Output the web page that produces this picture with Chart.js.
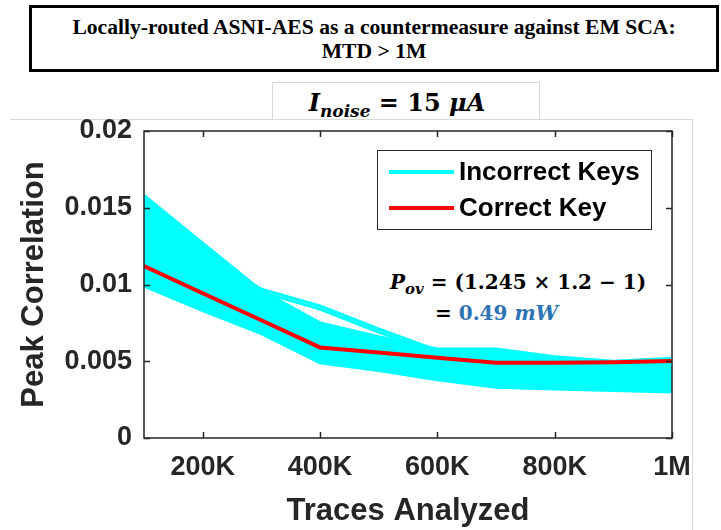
<!DOCTYPE html>
<html>
<head>
<meta charset="utf-8">
<script src="https://cdn.jsdelivr.net/npm/chart.js@4.4.0/dist/chart.umd.min.js"></script>
<style>
  html, body { margin: 0; padding: 0; background: #fff; }
  #page { position: relative; width: 721px; height: 530px; overflow: hidden; }
  #chart { position: absolute; left: 0; top: 0; z-index: 2; }
  .frame-h { position: absolute; left: 10px; top: 119px; width: 683px; height: 1px; background: #d9d9d9; }
  .frame-v { position: absolute; left: 692px; top: 119px; width: 1px; height: 411px; background: #d9d9d9; }
  #title-box {
    position: absolute; left: 29px; top: 5px; width: 690px; height: 67px;
    box-sizing: border-box; border: 3px solid #000; padding-top: 7px;
    font: bold 21.6px "Liberation Serif", "Times New Roman", serif;
    line-height: 24px; text-align: center; color: #000;
  }
  #noise-box {
    position: absolute; left: 272px; top: 82px; width: 268px; height: 38px;
    box-sizing: border-box; border: 1px solid #d9d9d9; border-bottom: none;
    font: bold 24px "DejaVu Serif", serif; text-align: center; line-height: 40px; color: #000;
    padding-right: 18px;
  }
  #noise-box sub { font-size: 17px; vertical-align: -6px; line-height: 0; }
  .math { position: absolute; font: bold 20px "DejaVu Serif", serif; color: #000; white-space: nowrap; }
  .math sub { font-size: 15px; vertical-align: -5px; line-height: 0; }
  .blue { color: #2e74b5; }
</style>
</head>
<body>
<div id="page">
  <div class="frame-h"></div>
  <div class="frame-v"></div>
  <div id="title-box">Locally-routed ASNI-AES as a countermeasure against EM SCA:<br>MTD &gt; 1M</div>
  <div id="noise-box"><i>I</i><sub><i>noise</i></sub> = 15 <i>μA</i></div>
  <div class="math" style="left:390px; top:270px;"><i>P</i><sub><i>ov</i></sub> = (1.245 × 1.2 − 1)</div>
  <div class="math" style="left:435px; top:301px;">= <span class="blue">0.49 <i>mW</i></span></div>
  <canvas id="chart" width="721" height="530"></canvas>
</div>
<script>
  /* ---- Data ---- */
  const traces = [100000, 200000, 300000, 400000, 500000, 600000, 700000, 800000, 900000, 1000000];
  const correctKey      = [0.0112, 0.00943, 0.00767, 0.0059, 0.00557, 0.00523, 0.0049, 0.0049, 0.00493, 0.00502];
  const incorrectLow    = [0.0099, 0.0083, 0.0068, 0.0049, 0.0044, 0.0038, 0.0033, 0.0032, 0.0031, 0.0030];
  const incorrectHigh   = [0.0158, 0.0127, 0.0096, 0.0075, 0.0066, 0.0058, 0.0058, 0.0053, 0.0050, 0.0052];
  const incorrectStrayA = [0.0140, 0.0118, 0.0097, 0.0086, 0.0071, 0.0057, 0.0055, 0.0051, 0.0047, 0.0046];
  const incorrectStrayB = [0.0130, 0.0112, 0.0095, 0.0084, 0.0069, 0.0055, 0.0053, 0.0049, 0.0045, 0.0044];

  const xTickValues = [200000, 400000, 600000, 800000, 1000000];
  const xTickLabels = ["200K", "400K", "600K", "800K", "1M"];
  const yTickValues = [0, 0.005, 0.01, 0.015, 0.02];
  const yTickLabels = ["0", "0.005", "0.01", "0.015", "0.02"];
  const legendLabels = ["Incorrect Keys", "Correct Key"];

  const CYAN = "#00ffff";
  const RED = "#ff0000";
  const INK = "#262626";
  const SANS = '"Liberation Sans", Arial, Helvetica, sans-serif';

  function pts(values) {
    return traces.map((t, i) => ({ x: t, y: values[i] }));
  }

  function cyanLine(values, extra) {
    return Object.assign({
      label: "Incorrect Keys",
      data: pts(values),
      borderColor: CYAN,
      backgroundColor: CYAN,
      borderWidth: 3,
      pointRadius: 0,
      fill: false,
      tension: 0,
      order: 1
    }, extra || {});
  }

  /* ---- Box, inward ticks and legend ---- */
  const matlabAxes = {
    id: "matlabAxes",
    afterDatasetsDraw(chart) {
      const { ctx, chartArea: a, scales: { x, y } } = chart;
      ctx.save();
      ctx.strokeStyle = INK;
      ctx.lineWidth = 1.5;
      ctx.strokeRect(a.left, a.top, a.right - a.left, a.bottom - a.top);
      ctx.beginPath();
      x.ticks.forEach(t => {
        const px = Math.round(x.getPixelForValue(t.value)) + 0.5;
        ctx.moveTo(px, a.bottom); ctx.lineTo(px, a.bottom - 6);
        ctx.moveTo(px, a.top); ctx.lineTo(px, a.top + 6);
      });
      y.ticks.forEach(t => {
        const py = Math.round(y.getPixelForValue(t.value)) + 0.5;
        ctx.moveTo(a.left, py); ctx.lineTo(a.left + 6, py);
        ctx.moveTo(a.right, py); ctx.lineTo(a.right - 6, py);
      });
      ctx.stroke();
      ctx.restore();
    },
    afterDraw(chart) {
      const { ctx } = chart;
      const bx = 377, by = 150, bw = 274, bh = 79;
      ctx.save();
      ctx.fillStyle = "#fff";
      ctx.fillRect(bx, by, bw, bh);
      ctx.strokeStyle = INK;
      ctx.lineWidth = 1;
      ctx.strokeRect(bx + 0.5, by + 0.5, bw, bh);
      const colors = [CYAN, RED];
      const rows = [172, 208];
      ctx.font = "bold 26px " + SANS;
      ctx.textBaseline = "middle";
      legendLabels.forEach((lbl, i) => {
        ctx.strokeStyle = colors[i];
        ctx.lineWidth = 4;
        ctx.beginPath();
        ctx.moveTo(389, rows[i]); ctx.lineTo(454, rows[i]);
        ctx.stroke();
        ctx.fillStyle = "#000";
        ctx.fillText(lbl, 459, rows[i] + 1);
      });
      ctx.restore();
    }
  };

  new Chart(document.getElementById("chart"), {
    type: "line",
    data: {
      datasets: [
        cyanLine(incorrectLow),
        cyanLine(incorrectHigh, { fill: "-1" }),
        cyanLine(incorrectStrayA),
        cyanLine(incorrectStrayB),
        {
          label: "Correct Key",
          data: pts(correctKey),
          borderColor: RED,
          backgroundColor: RED,
          borderWidth: 4,
          pointRadius: 0,
          fill: false,
          tension: 0,
          order: 0
        }
      ]
    },
    options: {
      responsive: false,
      animation: false,
      devicePixelRatio: 1,
      layout: { padding: { top: 131, right: 49, left: 0, bottom: 0 } },
      plugins: {
        legend: { display: false },
        tooltip: { enabled: false },
        title: { display: false }
      },
      scales: {
        x: {
          type: "linear",
          min: 100000,
          max: 1000000,
          afterBuildTicks: s => { s.ticks = xTickValues.map(v => ({ value: v })); },
          afterFit: s => { s.height = 92; },
          grid: { display: false, drawTicks: false },
          border: { display: false },
          ticks: {
            color: INK,
            font: { family: SANS, size: 27, weight: "bold" },
            padding: 13,
            maxRotation: 0,
            autoSkip: false,
            callback: (v, i) => xTickLabels[i]
          },
          title: {
            display: true,
            text: "Traces Analyzed",
            color: INK,
            font: { family: SANS, size: 31, weight: "bold", lineHeight: 1.2 },
            padding: { top: 0, bottom: 0 }
          }
        },
        y: {
          min: 0,
          max: 0.02,
          afterBuildTicks: s => { s.ticks = yTickValues.map(v => ({ value: v })); },
          afterFit: s => { s.width = 144; },
          grid: { display: false, drawTicks: false },
          border: { display: false },
          ticks: {
            color: INK,
            font: { family: SANS, size: 27, weight: "bold" },
            padding: 12,
            autoSkip: false,
            callback: (v, i) => yTickLabels[i]
          },
          title: {
            display: true,
            text: "Peak Correlation",
            color: INK,
            font: { family: SANS, size: 31, weight: "bold", lineHeight: 1.2 },
            padding: { top: 16, bottom: 0 }
          }
        }
      }
    },
    plugins: [matlabAxes]
  });
</script>
</body>
</html>
